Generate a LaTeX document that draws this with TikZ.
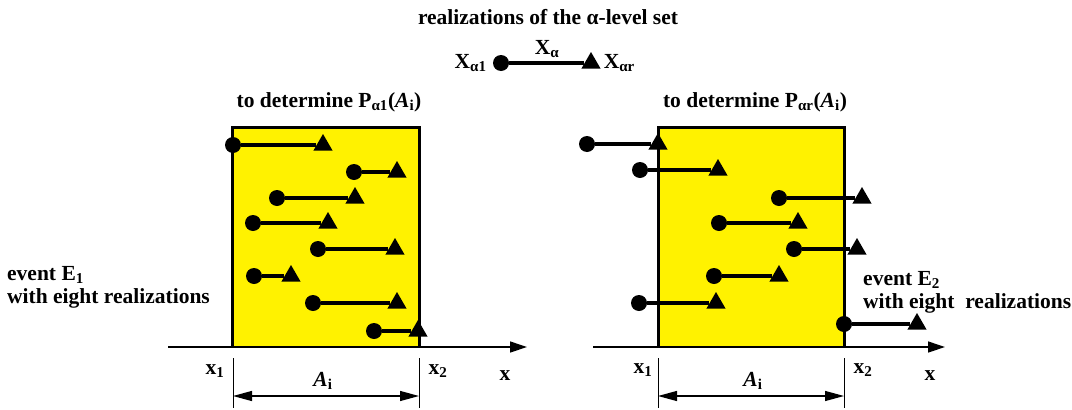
\documentclass[tikz,border=0pt]{standalone}
\usepackage{fontspec}
\setmainfont{Liberation Serif}
\usetikzlibrary{arrows.meta,shapes.geometric,positioning}

\tikzset{
  startpt/.style={
    shape = circle,
    inner sep = 0pt,
    minimum size = 16pt,
    fill = black
  },
  endpt/.style={
    shape = regular polygon,
    regular polygon sides = 3,
    inner sep = 0pt,
    minimum size = 22pt,
    fill = black
  },
  realiz/.style={
    line width = 3.5pt
  },
  boxedge/.style={
    line width = 3pt,
    line join = miter
  },
  axisline/.style={
    line width = 1.3pt,
    -{Triangle[length=17pt,width=11pt]}
  },
  dimline/.style={
    line width = 1.2pt,
    {Triangle[length=19pt,width=10pt]}-{Triangle[length=19pt,width=10pt]}
  },
  extline/.style={
    line width = 0.8pt
  },
  lbl/.style={
    font = \fontsize{21.5}{23}\selectfont\bfseries,
    inner sep = 1pt
  }
}

\begin{document}
\begin{tikzpicture}[x=1pt,y=-1pt]
  \useasboundingbox (0,0) rectangle (1072,410);

  % legend on top
  \node[lbl] (title) at (548,17) {realizations of the α-level set};
  \node[startpt] (ms) at (501,63) {};
  \node[endpt] (me) at (591,63) {};
  \draw[realiz] (ms) -- (me);
  \node[lbl] (xa) at (547,49) {X\textsubscript{α}};
  \node[lbl, left=5pt of ms] (xal) {X\textsubscript{α1}};
  \node[lbl, right=5pt of me] (xar) {X\textsubscript{αr}};

  % left panel
  \fill[yellow] (232,127) rectangle (419,347);
  \draw[boxedge] (232,347) |- (419,127) -- (419,347);
  \coordinate (la0) at (168,347);
  \coordinate (la1) at (527,347);
  \draw[axisline] (la0) -- (la1);
  \node[lbl] (ltitle) at (329,102) {to determine P\textsubscript{α1}(\textit{A}\textsubscript{i})};
  \foreach \a/\y/\b [count=\k] in {233/145/323, 354/172/397, 277/198/355, 253/223/328,
                                   318/249/395, 254/276/291, 313/303/397, 374/331/418}{
    \node[startpt] (ls\k) at (\a,\y) {};
    \node[endpt] (le\k) at (\b,\y) {};
    \draw[realiz] (ls\k) -- (le\k);
  }
  \node[lbl, anchor=west, align=left] (ev1) at (6,287) {event E\textsubscript{1}\\with eight realizations};
  \coordinate (lx1t) at (233,358);
  \coordinate (lx1b) at (233,408);
  \coordinate (lx2t) at (419,358);
  \coordinate (lx2b) at (419,408);
  \draw[extline] (lx1t) -- (lx1b);
  \draw[extline] (lx2t) -- (lx2b);
  \coordinate (ld1) at (233,396);
  \coordinate (ld2) at (419,396);
  \draw[dimline] (ld1) -- (ld2);
  \node[lbl] (lai) at (323,381) {\textit{A}\textsubscript{i}};
  \node[lbl] (lx1) at (215,371) {x\textsubscript{1}};
  \node[lbl] (lx2) at (438,371) {x\textsubscript{2}};
  \node[lbl] (lx) at (505,376) {x};

  % right panel
  \fill[yellow] (658,127) rectangle (844,347);
  \draw[boxedge] (658,347) |- (844,127) -- (844,347);
  \coordinate (ra0) at (593,347);
  \coordinate (ra1) at (945,347);
  \draw[axisline] (ra0) -- (ra1);
  \node[lbl] (rtitle) at (755,102) {to determine P\textsubscript{αr}(\textit{A}\textsubscript{i})};
  \foreach \a/\y/\b [count=\k] in {587/144/658, 640/170/718, 779/198/862, 719/223/798,
                                   794/249/857, 714/276/779, 639/303/716, 844/324/917}{
    \node[startpt] (rs\k) at (\a,\y) {};
    \node[endpt] (re\k) at (\b,\y) {};
    \draw[realiz] (rs\k) -- (re\k);
  }
  \node[lbl, anchor=west, align=left] (ev2) at (862,292) {event E\textsubscript{2}\\with eight\ \ realizations};
  \coordinate (rx1t) at (658,358);
  \coordinate (rx1b) at (658,408);
  \coordinate (rx2t) at (844,358);
  \coordinate (rx2b) at (844,408);
  \draw[extline] (rx1t) -- (rx1b);
  \draw[extline] (rx2t) -- (rx2b);
  \coordinate (rd1) at (658,396);
  \coordinate (rd2) at (844,396);
  \draw[dimline] (rd1) -- (rd2);
  \node[lbl] (rai) at (753,381) {\textit{A}\textsubscript{i}};
  \node[lbl] (rx1) at (643,370) {x\textsubscript{1}};
  \node[lbl] (rx2) at (863,370) {x\textsubscript{2}};
  \node[lbl] (rx) at (930,376) {x};
\end{tikzpicture}
\end{document}
